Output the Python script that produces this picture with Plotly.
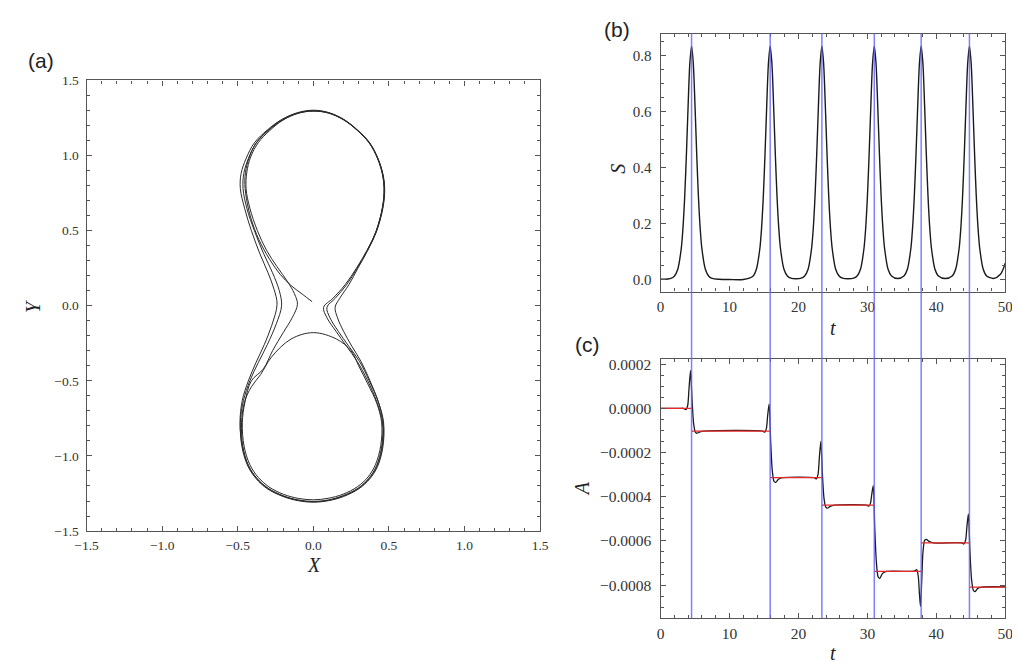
import plotly.graph_objects as go

W, H = 1020, 662

# ---------------- panel (a): trajectory in the (X, Y) plane -------------
pass_u1 = [(-0.008, 0.027), (-0.07, 0.075), (-0.148, 0.135), (-0.22, 0.21), (-0.29, 0.31),
           (-0.36, 0.44), (-0.415, 0.59), (-0.448, 0.75), (-0.452, 0.86), (-0.43, 0.97),
           (-0.38, 1.08), (-0.30, 1.165), (-0.205, 1.235), (-0.1, 1.282), (0.0, 1.296),
           (0.1, 1.283), (0.2, 1.238), (0.29, 1.168), (0.37, 1.083), (0.425, 0.98),
           (0.458, 0.87), (0.468, 0.78), (0.458, 0.66), (0.414, 0.49), (0.355, 0.37),
           (0.285, 0.25), (0.21, 0.14), (0.13, 0.05), (0.068, -0.01)]
pass_l1 = [(0.09, -0.08), (0.15, -0.17), (0.22, -0.27), (0.29, -0.37), (0.36, -0.50),
           (0.42, -0.64), (0.458, -0.78), (0.452, -0.94), (0.418, -1.065), (0.368, -1.148),
           (0.298, -1.213), (0.2, -1.263), (0.1, -1.293), (0.0, -1.303), (-0.1, -1.293),
           (-0.2, -1.265), (-0.3, -1.214), (-0.372, -1.15), (-0.428, -1.065), (-0.468, -0.94),
           (-0.485, -0.78), (-0.47, -0.63), (-0.43, -0.50), (-0.38, -0.38),
           (-0.325, -0.26), (-0.275, -0.13)]
pass_u2 = [(-0.24, 0.01), (-0.26, 0.11), (-0.30, 0.22), (-0.355, 0.35), (-0.41, 0.50),
           (-0.455, 0.65), (-0.483, 0.78), (-0.478, 0.88), (-0.445, 0.98), (-0.39, 1.085),
           (-0.305, 1.17), (-0.21, 1.24), (-0.1, 1.287), (0.0, 1.302), (0.1, 1.287),
           (0.2, 1.242), (0.292, 1.171), (0.373, 1.085), (0.428, 0.98), (0.462, 0.87),
           (0.472, 0.78), (0.462, 0.66), (0.42, 0.50), (0.36, 0.37),
           (0.29, 0.25), (0.22, 0.14), (0.145, 0.05), (0.09, -0.01)]
pass_l2 = [(0.11, -0.08), (0.165, -0.17), (0.235, -0.27), (0.305, -0.37), (0.37, -0.50),
           (0.43, -0.64), (0.465, -0.78), (0.46, -0.94), (0.425, -1.07), (0.373, -1.153),
           (0.302, -1.218), (0.2, -1.27), (0.1, -1.298), (0.0, -1.308), (-0.1, -1.298),
           (-0.2, -1.27), (-0.305, -1.218), (-0.377, -1.153), (-0.433, -1.068), (-0.472, -0.94),
           (-0.483, -0.78), (-0.462, -0.63), (-0.42, -0.50), (-0.365, -0.38),
           (-0.305, -0.26), (-0.245, -0.12)]
pass_u3 = [(-0.21, 0.0), (-0.225, 0.10), (-0.27, 0.22), (-0.33, 0.35), (-0.39, 0.50),
           (-0.44, 0.65), (-0.465, 0.78), (-0.46, 0.88), (-0.43, 0.98), (-0.378, 1.085),
           (-0.298, 1.17), (-0.205, 1.24), (-0.1, 1.284), (0.0, 1.299), (0.1, 1.285),
           (0.2, 1.24), (0.29, 1.17), (0.371, 1.084), (0.426, 0.98), (0.46, 0.87),
           (0.47, 0.78), (0.46, 0.66), (0.418, 0.50), (0.36, 0.37),
           (0.295, 0.25), (0.235, 0.14), (0.175, 0.05), (0.144, -0.01)]
pass_l3 = [(0.16, -0.08), (0.20, -0.17), (0.255, -0.27), (0.315, -0.37), (0.375, -0.50),
           (0.43, -0.64), (0.462, -0.78), (0.456, -0.94), (0.421, -1.067), (0.37, -1.15),
           (0.3, -1.215), (0.2, -1.266), (0.1, -1.295), (0.0, -1.305), (-0.1, -1.295),
           (-0.2, -1.267), (-0.302, -1.216), (-0.374, -1.151), (-0.43, -1.066), (-0.466, -0.94),
           (-0.475, -0.78), (-0.455, -0.64), (-0.41, -0.54), (-0.35, -0.46),
           (-0.277, -0.342), (-0.148, -0.222), (0.0, -0.179), (0.154, -0.222), (0.25, -0.30),
           (0.30, -0.40), (0.36, -0.52), (0.42, -0.65), (0.452, -0.78), (0.446, -0.93),
           (0.412, -1.055), (0.362, -1.14), (0.292, -1.205), (0.196, -1.255), (0.098, -1.282),
           (0.0, -1.292), (-0.098, -1.283), (-0.196, -1.256), (-0.294, -1.206), (-0.365, -1.142),
           (-0.42, -1.058), (-0.458, -0.935), (-0.47, -0.78), (-0.452, -0.64),
           (-0.41, -0.50), (-0.33, -0.42), (-0.27, -0.30), (-0.2, -0.18), (-0.14, -0.08)]
pass_u4 = [(-0.105, 0.01), (-0.125, 0.08), (-0.17, 0.16), (-0.24, 0.26), (-0.31, 0.37),
           (-0.37, 0.50), (-0.42, 0.65), (-0.445, 0.78), (-0.44, 0.89), (-0.415, 0.99),
           (-0.365, 1.085), (-0.29, 1.165), (-0.2, 1.237), (-0.1, 1.282), (0.0, 1.297),
           (0.1, 1.284), (0.2, 1.239), (0.291, 1.169), (0.372, 1.084), (0.427, 0.98),
           (0.46, 0.87), (0.469, 0.78), (0.459, 0.66), (0.416, 0.50), (0.358, 0.37)]
trajectory = pass_u1 + pass_l1 + pass_u2 + pass_l2 + pass_u3 + pass_l3 + pass_u4

# ---------------- panel (b): S(t) -------------
S_points = [(0.0, 0.002), (0.5, 0.002), (1.0, 0.003), (1.5, 0.005), (2.0, 0.013), (2.5, 0.038),
            (3.0, 0.111), (3.25, 0.184), (3.5, 0.295), (3.75, 0.447), (4.0, 0.622), (4.25, 0.774),
            (4.5, 0.835), (4.75, 0.774), (5.0, 0.622), (5.25, 0.447), (5.5, 0.295), (5.75, 0.184),
            (6.0, 0.111), (6.5, 0.038), (7.0, 0.013), (7.5, 0.005), (8.5, 0.002), (10.0, 0.001),
            (12.0, 0.001), (13.4, 0.013), (13.9, 0.038), (14.4, 0.111), (14.65, 0.184),
            (14.9, 0.295), (15.15, 0.447), (15.4, 0.622), (15.65, 0.774), (15.9, 0.835),
            (16.15, 0.774), (16.4, 0.622), (16.65, 0.447), (16.9, 0.295), (17.15, 0.184),
            (17.4, 0.111), (17.9, 0.038), (18.4, 0.014), (18.9, 0.006), (19.65, 0.004),
            (20.4, 0.006), (20.9, 0.014), (21.4, 0.038), (21.9, 0.111), (22.15, 0.184),
            (22.4, 0.295), (22.65, 0.447), (22.9, 0.622), (23.15, 0.774), (23.4, 0.835),
            (23.65, 0.774), (23.9, 0.622), (24.15, 0.447), (24.4, 0.295), (24.65, 0.184),
            (24.9, 0.111), (25.4, 0.038), (25.9, 0.014), (26.4, 0.006), (27.2, 0.004),
            (28.0, 0.006), (28.5, 0.014), (29.0, 0.038), (29.5, 0.111), (29.75, 0.184),
            (30.0, 0.295), (30.25, 0.447), (30.5, 0.622), (30.75, 0.774), (31.0, 0.835),
            (31.25, 0.774), (31.5, 0.622), (31.75, 0.447), (32.0, 0.295), (32.25, 0.184),
            (32.5, 0.111), (33.0, 0.038), (33.5, 0.014), (34.4, 0.005), (35.3, 0.014),
            (35.8, 0.038), (36.3, 0.111), (36.55, 0.184), (36.8, 0.295), (37.05, 0.447),
            (37.3, 0.622), (37.55, 0.774), (37.8, 0.835), (38.05, 0.774), (38.3, 0.622),
            (38.55, 0.447), (38.8, 0.295), (39.05, 0.184), (39.3, 0.111), (39.8, 0.038),
            (40.3, 0.014), (41.3, 0.005), (42.3, 0.014), (42.8, 0.038), (43.3, 0.111),
            (43.55, 0.184), (43.8, 0.295), (44.05, 0.447), (44.3, 0.622), (44.55, 0.774),
            (44.8, 0.835), (45.05, 0.774), (45.3, 0.622), (45.55, 0.447), (45.8, 0.295),
            (46.05, 0.184), (46.3, 0.111), (46.8, 0.038), (47.3, 0.014), (48.3, 0.005),
            (49.3, 0.020), (49.8, 0.045), (50.0, 0.060)]

# event times (blue lines)
event_times = [4.5, 15.9, 23.4, 31.0, 37.8, 44.8]

# ---------------- panel (c): A(t) -------------
A_points = [(0.0, 0.0), (3.0, 0.0), (3.3, 0.0), (3.7, -0.06e-4), (3.95, 0.15e-4), (4.12, 0.85e-4),
            (4.35, 1.71e-4), (4.57, 0.40e-4), (4.8, -0.70e-4), (5.05, -1.08e-4), (5.3, -1.13e-4),
            (5.7, -1.07e-4), (6.3, -1.03e-4),
            (14.8, -1.03e-4), (15.1, -1.08e-4), (15.35, -0.92e-4), (15.53, -0.35e-4),
            (15.75, 0.20e-4), (15.97, -1.47e-4), (16.2, -2.80e-4), (16.45, -3.30e-4),
            (16.7, -3.35e-4), (17.1, -3.21e-4), (17.7, -3.14e-4),
            (22.3, -3.14e-4), (22.6, -3.19e-4), (22.85, -2.98e-4), (23.03, -2.24e-4),
            (23.25, -1.50e-4), (23.47, -2.94e-4), (23.7, -4.05e-4), (23.95, -4.46e-4),
            (24.2, -4.52e-4), (24.6, -4.44e-4), (25.2, -4.38e-4),
            (29.9, -4.38e-4), (30.2, -4.43e-4), (30.45, -4.29e-4), (30.63, -3.90e-4),
            (30.85, -3.50e-4), (31.07, -5.44e-4), (31.3, -6.95e-4), (31.55, -7.62e-4),
            (31.8, -7.70e-4), (32.2, -7.47e-4), (32.8, -7.38e-4),
            (36.5, -7.38e-4), (36.9, -7.36e-4), (37.15, -7.30e-4), (37.38, -7.60e-4),
            (37.55, -8.40e-4), (37.7, -8.96e-4), (37.87, -7.90e-4), (38.05, -6.55e-4),
            (38.3, -5.98e-4), (38.55, -5.93e-4), (38.95, -6.02e-4), (39.6, -6.09e-4),
            (43.7, -6.09e-4), (44.0, -6.14e-4), (44.25, -5.96e-4), (44.43, -5.37e-4),
            (44.65, -4.78e-4), (44.87, -6.44e-4), (45.1, -7.72e-4), (45.35, -8.22e-4),
            (45.6, -8.30e-4), (46.0, -8.15e-4), (46.6, -8.09e-4), (50.0, -8.08e-4)]

# red step levels between the event times
step_edges = [0.0, 4.5, 15.9, 23.4, 31.0, 37.8, 44.8, 50.0]
step_levels = [0.0, -1.03e-4, -3.14e-4, -4.38e-4, -7.38e-4, -6.09e-4, -8.09e-4]

# ---------------- layout geometry (pixels) -------------
def px_x(p):
    return p / W

def px_y(p):
    return 1 - p / H

dom_a_x = [px_x(68), px_x(531)]
dom_a_y = [px_y(528), px_y(67)]
dom_bc_x = [px_x(654), px_x(1006)]
dom_b_y = [px_y(283), px_y(19)]
dom_c_y = [px_y(617), px_y(352)]

fig = go.Figure()

fig.add_trace(go.Scatter(
    x=[p[0] for p in trajectory], y=[p[1] for p in trajectory],
    mode="lines", line=dict(color="#2a2a2a", width=1.0, shape="spline", smoothing=1.0),
    xaxis="x", yaxis="y", showlegend=False, hoverinfo="skip"))

fig.add_trace(go.Scatter(
    x=[p[0] for p in S_points], y=[p[1] for p in S_points],
    mode="lines", line=dict(color="#1a1a1a", width=1.4, shape="spline", smoothing=0.8),
    xaxis="x2", yaxis="y2", showlegend=False, hoverinfo="skip"))

fig.add_trace(go.Scatter(
    x=[p[0] for p in A_points], y=[p[1] for p in A_points],
    mode="lines", line=dict(color="#1a1a1a", width=1.3, shape="spline", smoothing=0.7),
    xaxis="x3", yaxis="y3", showlegend=False, hoverinfo="skip"))

red_x, red_y = [], []
for i, lev in enumerate(step_levels):
    red_x += [step_edges[i], step_edges[i + 1], None]
    red_y += [lev, lev, None]
fig.add_trace(go.Scatter(
    x=red_x, y=red_y, mode="lines", line=dict(color="#e8282a", width=1.3),
    xaxis="x3", yaxis="y3", showlegend=False, hoverinfo="skip"))

for t in event_times:
    fig.add_shape(type="line", xref="x2", yref="paper", x0=t, x1=t,
                  y0=dom_c_y[0], y1=dom_b_y[1],
                  line=dict(color="rgba(95,95,255,0.8)", width=1.5), layer="above")

serif = "Liberation Serif, Times New Roman, serif"
tick_font_a = dict(family=serif, size=13.5, color="#333")
tick_font_b = dict(family=serif, size=15, color="#333")
tick_font_c = dict(family=serif, size=15.5, color="#333")
axis_common = dict(showline=True, linecolor="#555", linewidth=1.2, mirror="allticks",
                   ticks="inside", ticklen=5, tickwidth=1, tickcolor="#555",
                   showgrid=False, zeroline=False)

def minor(d):
    return dict(dtick=d, ticks="inside", ticklen=3, tickcolor="#555")

fig.update_layout(
    width=W, height=H, autosize=False,
    margin=dict(l=0, r=0, t=0, b=0),
    paper_bgcolor="white", plot_bgcolor="white",
    xaxis=dict(domain=dom_a_x, range=[-1.5, 1.5], dtick=0.5, tick0=0, tickformat=".1f",
               tickfont=tick_font_a, anchor="y", minor=minor(0.1), ticklabelstandoff=2,
               **axis_common),
    yaxis=dict(domain=dom_a_y, range=[-1.5, 1.5], dtick=0.5, tick0=0, tickformat=".1f",
               tickfont=tick_font_a, anchor="x", minor=minor(0.1), ticklabelstandoff=4,
               **axis_common),
    xaxis2=dict(domain=dom_bc_x, range=[0, 50], dtick=10, tick0=0, tickfont=tick_font_b,
                anchor="y2", minor=minor(2), ticklabelstandoff=1, **axis_common),
    yaxis2=dict(domain=dom_b_y, range=[-0.042, 0.88], dtick=0.2, tick0=0, tickformat=".1f",
                tickfont=tick_font_b, anchor="x2", minor=minor(0.05), ticklabelstandoff=5,
                **axis_common),
    xaxis3=dict(domain=dom_bc_x, range=[0, 50], dtick=10, tick0=0, tickfont=tick_font_c,
                anchor="y3", minor=minor(2), ticklabelstandoff=1, **axis_common),
    yaxis3=dict(domain=dom_c_y, range=[-0.000949, 0.000223], dtick=0.0002, tick0=0,
                tickformat=".4f", tickfont=tick_font_c, anchor="x3", minor=minor(0.00005),
                ticklabelstandoff=5, **axis_common),
)

label_font = dict(family="Liberation Sans, Arial, sans-serif", size=21, color="#222")
title_font = dict(family=serif, size=20, color="#222")

def note(text, x, y, font, angle=0):
    fig.add_annotation(text=text, x=px_x(x), y=px_y(y), xref="paper", yref="paper",
                       showarrow=False, font=font, textangle=angle,
                       xanchor="center", yanchor="middle")

note("(a)", 21, 47, label_font)
note("(b)", 610, 15, label_font)
note("(c)", 579, 337, label_font)
note("<i>X</i>", 300, 563, title_font)
note("<i>Y</i>", 14, 298, title_font, -90)
note("<i>S</i>", 611, 157, title_font, -90)
note("<i>t</i>", 830, 320, title_font)
note("<i>A</i>", 574, 485, title_font, -90)
note("<i>t</i>", 830, 653, title_font)

fig.write_html("out.html")
